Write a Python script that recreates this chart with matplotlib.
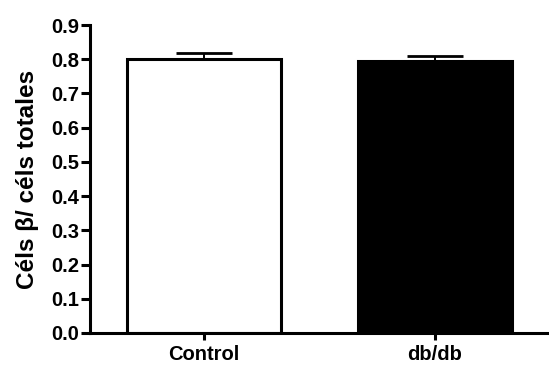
import matplotlib
matplotlib.use("Agg")
import matplotlib.pyplot as plt

categories = ["Control", "db/db"]
means = [0.800, 0.795]
sem = [0.018, 0.015]
fill_colors = ["white", "black"]
y_ticks = [0.0, 0.1, 0.2, 0.3, 0.4, 0.5, 0.6, 0.7, 0.8, 0.9]

plt.rcParams["font.family"] = ["Liberation Sans", "DejaVu Sans"]
plt.rcParams["font.weight"] = "bold"

fig = plt.figure(figsize=(5.49, 3.65), dpi=100)
ax = fig.add_axes([0.164, 0.0877, 0.836, 0.8438])

x = list(range(len(categories)))
ax.bar(x, means, width=0.667, color=fill_colors, edgecolor="black",
       linewidth=2.2, zorder=2)
ax.errorbar(x, means, yerr=[[0] * len(sem), sem], fmt="none", ecolor="black",
            elinewidth=1.4, capsize=20, capthick=2.0, zorder=1)

ax.set_xlim(-0.494, 1.494)
ax.set_ylim(0, 0.9)
ax.set_yticks(y_ticks)
ax.set_yticklabels([f"{v:.1f}" for v in y_ticks])
ax.set_xticks(x)
ax.set_xticklabels(categories)

for side in ("top", "right"):
    ax.spines[side].set_visible(False)
for side in ("left", "bottom"):
    ax.spines[side].set_linewidth(2.2)

ax.tick_params(axis="y", direction="out", length=6.5, width=2.2,
               labelsize=14.5, pad=1)
ax.tick_params(axis="x", direction="out", length=5, width=2.2,
               labelsize=14.5, pad=4)
for lbl in ax.get_xticklabels() + ax.get_yticklabels():
    lbl.set_fontweight("bold")

ax.set_ylabel("Céls β/ céls totales", fontsize=17.5, fontweight="bold",
              labelpad=9)

fig.savefig("out.png", dpi=100)
